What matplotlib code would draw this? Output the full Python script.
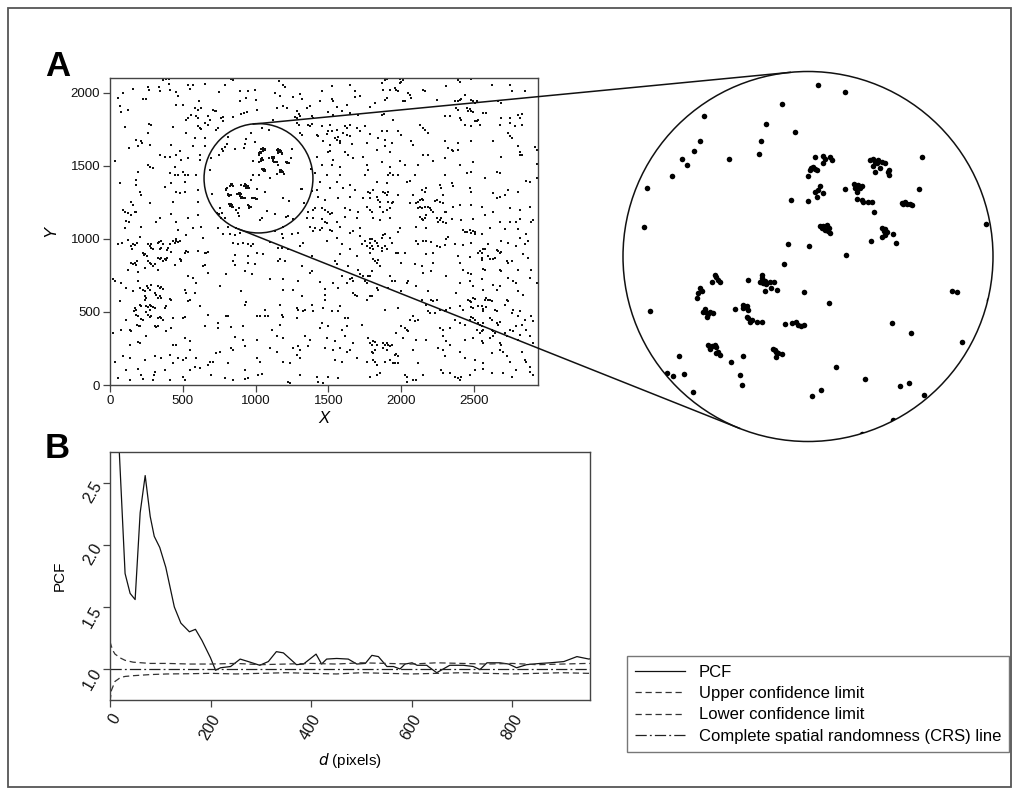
import numpy as np
import matplotlib
matplotlib.use('Agg')
import matplotlib.pyplot as plt
from matplotlib.patches import Circle, Rectangle
from matplotlib.lines import Line2D

plt.rcParams['font.family'] = ['Liberation Sans', 'DejaVu Sans']

# ---------------- Panel A data (X, Y) ----------------
pts_nw = [
(364,2085),(387,2090),(405,2090),(405,2060),(536,2055),(547,2025),(650,2062),(829,2090),(845,2083),(119,2106),
(89,1998),(158,2028),(261,2037),(265,2016),(334,2037),(341,2014),(410,2021),(455,2005),(467,1975),(570,2055),(746,2005),(792,2051),(891,2014),(936,1964),(948,2010),
(55,1964),(226,1957),(249,1957),(455,1918),(501,1918),(609,1945),(891,1945),(66,1906),(73,1865),(123,1884),
(586,1895),(604,1884),(627,1895),(593,1838),(604,1826),(559,1849),(536,1826),(673,1838),(684,1815),(707,1884),(719,1872),(730,1877),(776,1808),(765,1826),(845,1831),(776,1831),(902,1854),(920,1861),(943,1868),
(265,1785),(279,1780),(524,1815),(433,1762),(604,1769),(616,1758),(627,1753),(650,1792),(673,1780),(742,1758),(730,1746),
(101,1762),(261,1723),(524,1723),(650,1689),(586,1689),(181,1677),(215,1666),(220,1655),(272,1643),(421,1643),(478,1602),(570,1632),(650,1632),(128,1620),(192,1632),
(341,1574),(375,1563),(410,1563),(455,1574),(536,1552),(616,1574),(32,1529),(261,1506),(272,1494),(295,1483),(490,1540),(444,1494),(616,1540),
(192,1460),(410,1448),(444,1437),(467,1437),(501,1460),(513,1437),(536,1437),(593,1437),(66,1380),(181,1403),(181,1368),(375,1357),(421,1380),(513,1391),
(204,1323),(215,1300),(455,1323),(478,1311),(513,1323),(604,1334),(146,1254),(158,1231),(272,1242),(433,1254),(604,1254),
(89,1197),(101,1181),(123,1174),(169,1185),(181,1181),(146,1162),(341,1139),(421,1167),(536,1144),(604,1162),
(112,1121),(128,1116),(215,1082),(318,1116),(455,1116),(101,1071),(467,1059),(570,1071),(627,1082),(742,1071),(810,1082),(868,1071),(765,1139)]

pts_n = [
(1164,2078),(1191,2055),(1202,2037),(1454,2014),(1523,2044),(1649,2051),(1683,2010),(1867,2067),(1889,2083),(1901,2090),(1878,2021),(1924,2021),(1889,1952),(1901,1964),
(996,2021),(1003,1952),(1134,1998),(1168,1975),(1260,1968),(1306,1991),(1317,1959),(1443,1941),(1523,1959),(1535,1941),(1557,1900),(1626,1918),(1683,1968),(1718,1975),(1786,1900),(1821,1929),(1867,1849),(1883,1854),
(1008,1884),(1145,1895),(1191,1906),(1214,1895),(1283,1872),(1301,1854),(1351,1895),(1374,1906),(1500,1868),(1535,1849),(1592,1872),(1649,1861),(1706,1849),
(1271,1831),(1306,1838),(1283,1826),(1386,1838),(1397,1826),(1122,1815),(1283,1792),(1301,1776),(1363,1780),(1374,1769),(1386,1785),(1454,1769),(1512,1780),(1557,1746),(1615,1769),(1626,1758),(1649,1780),(1695,1758),(1752,1769),(1867,1735),
(1306,1723),(1317,1712),(1420,1712),(1431,1700),(1489,1716),(1500,1735),(1523,1739),(1546,1689),(1557,1677),(1569,1693),(1580,1666),(1603,1723),(1626,1712),(1649,1700),(1718,1735),(1786,1716),(1844,1689),(1901,1739),
(1466,1666),(1512,1643),(1580,1655),(1660,1650),(1764,1655),(1889,1677),(1935,1655),(1500,1597),(1512,1602),(1615,1597),(1638,1574),(1832,1609),(1889,1632),(1924,1593),
(1420,1563),(1535,1540),(1672,1552),(1741,1563),(1867,1524),(1454,1506),(1523,1506),(1580,1494),(1764,1506),(1775,1471),(1924,1494),
(1409,1448),(1489,1437),(1580,1437),(1752,1437),(1924,1448),(1947,1437),(1443,1391),(1557,1391),(1649,1368),(1832,1391),(1901,1380),(1912,1437),
(1420,1334),(1512,1345),(1603,1345),(1683,1334),(1775,1323),(1786,1311),(1809,1334),(1878,1323),(1889,1311),(1901,1300),(1912,1323),
(1363,1277),(1431,1288),(1477,1265),(1569,1277),(1649,1288),(1741,1277),(1786,1277),(1832,1288),(1844,1265),(1855,1254),(1912,1254),(1935,1242),
(1363,1185),(1397,1197),(1409,1208),(1454,1208),(1477,1197),(1500,1185),(1512,1167),(1523,1174),(1615,1208),(1649,1197),(1706,1185),(1764,1219),(1786,1197),(1798,1185),(1855,1219),(1878,1185),(1901,1197),(1924,1208),
(1351,1139),(1397,1139),(1454,1135),(1477,1116),(1489,1105),(1557,1116),(1615,1151),(1695,1139),(1809,1139),(1855,1128),(1924,1139),
(1374,1082),(1409,1071),(1443,1059),(1454,1071),(1512,1059),(1580,1082),(1718,1071)]

pts_ne = [
(1991,2090),(2002,2074),(2014,2083),(1995,2067),(1956,2032),(1968,2021),(1979,2010),(2048,1998),(2060,1987),(2014,1945),(2025,1941),(2071,1964),(2151,2021),(2163,2014),(2151,2101),(2380,2097),(2392,2083),(2403,2074),(2483,2090),(2529,2101),(2311,2044),(2437,1982),(2621,2055),(2747,2055),(2758,2010),(2850,2014),(2815,2106),
(2243,1952),(2369,1945),(2392,1941),(2403,1952),(2414,1959),(2483,1952),(2495,1941),(2506,1929),(2518,1945),(2666,1941),(2689,1929),
(2380,1895),(2392,1884),(2449,1895),(2460,1877),(2472,1890),(2483,1872),(2495,1868),(2563,1861),(2586,1861),(2300,1838),(2334,1838),(2403,1826),(2414,1815),(2506,1808),(2518,1803),(2529,1815),(2689,1826),(2747,1826),(2815,1826),(2804,1849),(2827,1854),
(1945,1815),(2128,1780),(2151,1758),(2437,1780),(2483,1769),(2540,1780),(2781,1769),(2678,1780),(2747,1792),(2827,1776),(1979,1735),(2002,1712),(2163,1746),(2185,1723),(2735,1723),(2747,1700),(2758,1689),
(2071,1666),(2082,1643),(2300,1666),(2323,1620),(2346,1609),(2357,1602),(2392,1655),(2392,1609),(2483,1666),(2632,1666),(2804,1632),(2815,1597),(2827,1574),(2918,1625),(2930,1609),
(1991,1529),(2151,1574),(2185,1574),(2220,1533),(2300,1552),(2689,1563),(2815,1574),(2025,1506),(2117,1506),(2403,1506),(2495,1524),(2930,1510),
(1979,1437),(2094,1437),(2300,1437),(2449,1448),(2483,1455),(2575,1414),(2655,1460),(2678,1448),(2861,1396),(2884,1391),(2930,1414),
(2037,1391),(2060,1396),(2266,1368),(2346,1380),(2357,1364),(2277,1345),(2472,1345),(1979,1300),(2082,1300),(2140,1334),(2163,1323),(2174,1345),(2289,1300),(2483,1323),(2632,1311),(2655,1277),(2678,1288),(2712,1300),(2735,1334),(2804,1323),
(1945,1254),(2060,1242),(2105,1242),(2117,1254),(2128,1265),(2140,1272),(2151,1265),(2128,1219),(2117,1208),(2140,1208),(2163,1219),(2185,1219),(2197,1208),(2208,1197),(2220,1185),(2231,1258),(2243,1265),(2266,1254),(2289,1242),(2300,1185),(2311,1181),(2357,1219),(2403,1231),(2483,1231),(2552,1219),(2632,1185),(2747,1208),(2815,1197),(2884,1219),
(2128,1151),(2140,1135),(2151,1128),(2163,1144),(2174,1162),(2243,1139),(2254,1116),(2266,1128),(2277,1144),(2289,1112),(2311,1105),(2346,1135),(2414,1128),(2495,1135),(2575,1162),(2678,1116),(2747,1116),(2792,1116),(2815,1135),(2895,1116),(2907,1128),
(1991,1071),(2105,1082),(2174,1071),(2426,1059),(2449,1048),(2472,1059),(2495,1052),(2506,1048),(2609,1071),(2712,1066),(2804,1066)]

pts_sw = [
(204,1015),(524,1024),(455,996),(467,978),(478,985),(639,1008),(776,1031),(822,1031),(856,1024),(891,1042),(845,973),(879,962),(913,973),(948,962),(971,950),
(55,962),(82,969),(123,992),(142,950),(151,932),(158,962),(174,955),(188,969),(226,905),(233,886),(242,893),(256,882),(261,962),(272,950),(279,939),(284,962),(295,928),(330,969),(334,978),(341,928),(352,939),(348,985),(364,962),(394,923),(398,939),(410,962),(417,909),(433,985),(444,973),(455,985),
(330,870),(341,859),(352,870),(364,847),(375,863),(387,854),(394,870),(284,825),(295,813),(307,825),(261,847),(272,836),(146,836),(158,825),(169,836),(181,818),(188,847),(524,916),(513,905),(536,909),(478,859),(485,847),(490,854),(604,916),(650,900),(662,905),(673,909),
(123,790),(192,772),(238,802),(330,790),(444,818),(536,744),(570,733),(593,699),(639,813),(650,818),(673,767),(753,676),(799,756),(856,886),(845,847),(856,818),(925,779),(948,882),(948,836),
(20,722),(32,710),(78,699),(112,664),(192,710),(158,641),(204,664),
(226,653),(238,641),(256,676),(261,664),(272,653),(279,687),(330,676),(341,664),(352,671),(364,657),(238,607),(249,596),(242,584),(307,630),(318,618),(330,596),(341,607),(352,596),(410,589),(421,584),(387,538),(375,527),
(169,527),(181,515),(165,504),(204,550),(215,538),(249,543),(261,534),(272,550),(284,538),(295,534),(307,527),(249,497),(261,481),(272,465),(284,474),(330,458),(341,465),(352,458),(181,481),(192,470),(188,412),(197,405),(204,401),(307,401),(318,396),(330,405),(215,451),(226,447),(364,442),
(66,573),(112,447),(135,378),(192,291),(272,515),(433,458),(501,458),(513,465),(536,573),(547,584),(513,653),(524,630),(581,630),(616,538),(673,481),(650,401),(742,424),(742,389),(799,474),(810,470),(833,396),(856,328),(902,641),(925,550),(936,566),(913,401),(925,264),
(20,355),(78,378),(146,367),(249,332),(387,367),(421,389),(513,321),(547,298),(433,275),(455,275),(547,241),(135,275),(204,286),
(410,206),(467,183),(501,172),(593,183),(673,138),(684,160),(707,160),(730,218),(753,229),(833,252),(845,241),(913,309),(810,149),
(32,160),(89,195),(135,183),(238,172),(307,195),(352,183),(433,149),(524,183),
(112,103),(192,108),(215,69),(307,92),(302,69),(375,103),(547,103),(581,122),(616,115),(696,69),(925,103),(948,46),
(55,46),(135,34),(226,39),(295,34),(410,34),(501,57),(513,34),(788,46),(845,34),(925,39)]

pts_s = [
(985,962),(1099,978),(1180,1031),(1191,1008),(1248,1031),(1294,1042),(1397,1054),(1523,1054),(1649,1042),(1672,1054),(1718,1019),(1752,985),(1786,1001),(1821,985),(1867,1008),(1873,1024),(1889,1031),(1924,1008),(1935,973),
(1889,950),(1901,928),(1867,939),(1844,950),(1832,973),(1798,950),(1786,939),(1809,928),(1786,905),(1867,916),(1786,973),(1798,996),(1809,863),(1821,847),(1832,836),(1844,854),(1855,813),(1924,744),(1798,779),
(1008,905),(1054,893),(1157,939),(1180,939),(1225,928),(1306,950),(1328,973),(1386,882),(1489,985),(1557,1008),(1580,893),(1592,962),(1649,928),(1695,882),(1729,962),(1764,950),
(996,825),(1157,847),(1168,859),(1202,847),(1317,813),(1374,767),(1386,779),(1546,847),(1557,825),(1638,813),(1706,790),
(973,756),(1099,726),(1191,722),(1294,710),(1443,703),(1535,699),(1592,744),(1626,699),(1649,722),(1660,733),(1672,710),(1718,756),(1741,744),(1752,710),(1764,699),(1775,744),(1786,749),(1832,664),(1844,653),(1912,664),(1935,710),
(1191,653),(1260,653),(1477,657),(1569,664),(1672,630),(1683,618),(1695,612),(1764,584),(1786,607),(1798,612),(1889,515),
(1168,550),(1317,607),(1386,550),(1466,527),(1477,584),(1580,538),(1477,618),
(1008,474),(1065,515),(1031,470),(1065,474),(1088,474),(1180,481),(1191,465),(1283,527),(1294,515),(1328,509),(1340,515),(1397,504),(1523,504),(1569,504),(1615,458),(1638,458),(1729,412),
(1111,378),(1168,412),(1283,458),(1454,424),(1443,389),(1500,401),(1592,378),(1626,401),
(1008,309),(1145,332),(1191,321),(1340,332),(1374,309),(1489,321),(1546,298),(1615,332),
(1775,321),(1786,286),(1798,275),(1809,298),(1821,291),(1832,275),(1878,286),(1889,275),(1901,286),(1912,275),(1924,268),(1935,275),(1878,252),(1901,241),(1798,229),(1809,218),(1821,241),
(1099,252),(1145,229),(1260,252),(1294,264),(1306,241),(1283,206),(1306,183),(1363,264),(1477,252),(1535,241),(1580,252),(1626,229),(1649,241),(1672,286),
(1008,183),(1031,160),(1191,160),(1237,149),(1546,172),(1592,160),(1695,183),(1764,160),(1809,172),(1821,154),(1832,138),(1889,160),(1924,172),(1947,149),
(1019,69),(1042,76),(1306,69),(1420,57),(1500,57),(1569,46),(1786,57),(1832,69),(1855,80),(1225,23),(1237,11),(1432,23),(1466,11)]

pts_se = [
(2437,1047),(2483,1042),(2506,1031),(2552,1031),(2323,1015),(2311,996),(2861,1031),(2815,1008),(1979,1047),
(2105,985),(2117,962),(2151,985),(2174,985),(2208,978),(2243,950),(2266,946),(2300,955),(2369,962),(2426,955),(2483,973),(2598,962),(2689,985),(2735,973),(2792,950),(2850,962),(2872,985),
(2529,905),(2540,916),(2552,900),(2563,928),(2575,932),(2598,882),(2609,859),(2632,859),(2643,870),(2655,923),(2666,916),(2678,905),(2689,909),(2724,847),(2735,836),(2552,854),(2563,795),(2575,790),(2678,790),(2689,779),(2552,870),
(1968,905),(1979,900),(2025,900),(2174,893),(2220,905),(2392,882),(2472,877),(2838,893),(2872,870),(2895,790),(2758,847),
(2002,836),(2094,825),(2140,813),(2220,836),(2403,836),(2426,790),(2460,767),(2483,756),(2208,779),(2151,767),(2804,790),
(1956,710),(2037,699),(2048,710),(2311,744),(2403,699),(2472,710),(2552,722),(2632,687),(2678,676),(2735,733),(2769,710),(2792,699),(2884,733),
(2804,641),(2838,618),(2930,699),(2002,641),(2105,676),(2185,641),(2380,630),(2495,676),(2563,653),(2655,653),
(2460,584),(2472,573),(2495,596),(2483,566),(2506,589),(2483,534),(2495,527),(2529,538),(2552,543),(2563,520),(2563,504),(2575,584),(2586,596),(2598,580),(2609,584),(2621,573),(2586,534),(2643,515),(2655,504),(2724,580),(2735,573),(2712,550),
(2483,465),(2495,458),(2506,447),(2472,447),(2529,424),(2540,412),(2552,401),(2563,424),(2609,458),(2621,447),(2655,424),(2666,412),(2678,428),(2621,378),(2632,367),(2643,355),(2540,355),(2552,367),(2563,378),(2552,298),(2563,286),(2678,286),(2689,275),(2632,332),(2518,378),
(2140,584),(2208,584),(2220,573),(2243,584),(2174,550),(2266,515),(2300,504),(2311,515),(2334,527),(2403,538),(2426,515),(2185,504),(2197,493),(2231,493),
(1979,527),(2060,447),(2082,470),(2094,435),(2117,447),(2002,401),(2025,389),(2037,378),(2048,367),(2266,389),(2289,378),(2334,389),(2369,447),(2403,424),(2437,412),
(2758,493),(2769,515),(2815,504),(2804,470),(2792,401),(2827,412),(2850,447),(2895,470),(2907,435),(2861,378),(2769,367),(2747,378),(2815,344),
(1968,355),(2014,321),(2105,309),(2174,309),(2289,332),(2311,298),(2334,275),(2437,309),(2495,321),(2609,321),(2712,355),(2724,332),(2804,309),(2884,332),(2907,286),
(1956,206),(1968,213),(1979,195),(1956,149),(1979,149),(2082,241),(2117,149),(2254,252),(2289,241),(2300,195),(2403,229),(2437,183),(2506,172),(2563,149),(2621,218),(2678,241),(2701,229),(2724,195),(2747,160),(2827,229),(2850,172),(2861,160),(2884,126),
(2025,69),(2037,57),(2082,34),(2105,34),(2151,69),(2277,103),(2289,80),(2334,80),(2369,57),(2392,46),(2403,34),(2414,57),(2472,69),(2506,103),(2563,108),(2621,80),(2701,80),(2758,57),(2792,103),(2884,92),(2907,69),(2037,23)]

# points inside the magnified circle (X, Y)
zoom_pts = [
(1041,1761),(1094,1746),(967,1723),(809,1699),(936,1682),(994,1665),(801,1647),(925,1647),(790,1628),(766,1612),(776,1599),(861,1612),(921,1621),(746,1576),(695,1553),(689,1473),
(1034,1616),(1051,1618),(1054,1611),(1065,1615),(1068,1610),(1050,1603),(1024,1589),(1027,1593),(1031,1595),(1034,1591),(1038,1589),(1021,1576),
(1146,1610),(1152,1611),(1156,1606),(1159,1603),(1162,1610),(1169,1606),(1176,1604),(1152,1597),(1166,1593),(1156,1585),(1183,1589),(1183,1579),(1181,1584),(1250,1616),
(1044,1556),(1041,1549),(1034,1545),(1038,1535),(1051,1542),(1021,1527),(1094,1550),
(1112,1561),(1119,1557),(1115,1552),(1122,1559),(1125,1552),(1129,1557),(1119,1545),(1119,1530),(1129,1528),(1132,1525),(1142,1525),(1149,1524),(1154,1503),
(1245,1550),(1210,1523),(1213,1520),(1216,1525),(1220,1520),(1227,1520),(1230,1518),(985,1529),(1380,1480),
(1044,1475),(1048,1471),(1051,1476),(1054,1468),(1058,1478),(1061,1466),(1065,1461),(1063,1471),
(1169,1471),(1173,1466),(1176,1469),(1179,1464),(1176,1458),(1169,1454),(1191,1459),(1198,1442),(1148,1446),
(979,1439),(1022,1436),(1096,1418),(971,1399),
(926,1377),(928,1370),(923,1363),(930,1360),(933,1365),(936,1358),(943,1363),(951,1363),(946,1350),(958,1346),(934,1345),(898,1367),(1011,1342),(1063,1321),
(832,1377),(835,1373),(838,1367),(842,1363),(825,1363),(801,1350),(805,1345),(798,1340),(795,1331),
(811,1307),(808,1302),(815,1300),(818,1298),(822,1302),(828,1299),(816,1292),(700,1304),(872,1308),
(889,1316),(892,1311),(896,1314),(889,1309),(899,1306),(896,1292),(899,1289),(903,1282),(916,1282),(926,1282),(906,1286),
(973,1277),(987,1279),(996,1282),(1000,1275),(1005,1273),(1011,1275),
(1311,1344),(1321,1342),(1385,1327),(1189,1279),(1228,1259),(1332,1242),
(818,1235),(822,1230),(825,1233),(832,1235),(835,1232),(838,1221),(842,1215),(835,1218),(822,1226),
(950,1228),(953,1225),(956,1221),(960,1218),(967,1217),(955,1210),
(759,1213),(888,1213),(864,1200),(735,1178),(747,1172),(770,1176),(788,1140),(882,1175),(887,1154),
(1077,1190),(1135,1167),(1206,1152),(1224,1159),(1254,1134),(1046,1145),(1029,1131),(1191,1083),(1130,1056)]

zoom_center = (1020, 1414)
zoom_radius = 374

a_xticks = [0, 500, 1000, 1500, 2000, 2500]
a_yticks = [0, 500, 1000, 1500, 2000]

# ---------------- Panel B data ----------------
pcf_d = [5, 15, 30, 40, 50, 60, 70, 80, 88, 99, 111, 128, 141, 158, 170, 183, 200, 210, 220, 240,
         259, 275, 298, 315, 331, 345, 371, 385, 410, 421, 431, 451, 474, 491, 508, 521, 534, 551,
         564, 577, 587, 601, 611, 630, 650, 663, 676, 703, 723, 736, 750, 776, 793, 809, 829, 856,
         876, 903, 929, 953, 972, 990]
pcf_g = [5.0, 3.05, 1.77, 1.61, 1.56, 2.26, 2.56, 2.23, 2.07, 1.98, 1.82, 1.50, 1.37, 1.30, 1.32,
         1.23, 1.09, 0.99, 1.01, 1.02, 1.08, 1.06, 1.03, 1.06, 1.14, 1.13, 1.035, 1.04, 1.12, 1.04,
         1.08, 1.085, 1.08, 1.04, 1.045, 1.11, 1.10, 1.02, 1.02, 1.00, 1.04, 1.05, 1.03, 1.03, 0.97,
         1.00, 1.03, 1.03, 1.02, 0.995, 1.05, 1.05, 1.04, 1.01, 1.035, 1.045, 1.05, 1.06, 1.10, 1.08,
         1.105, 1.09]
env_d = [0, 3, 7, 10, 17, 20, 30, 46, 80, 113, 160, 200, 250, 300, 350, 400, 450, 500, 550, 600,
         650, 700, 750, 800, 850, 900, 950, 990]
env_hi = [1.22, 1.18, 1.14, 1.12, 1.10, 1.09, 1.07, 1.055, 1.045, 1.045, 1.04, 1.04, 1.045, 1.035,
          1.04, 1.045, 1.04, 1.05, 1.045, 1.04, 1.05, 1.045, 1.04, 1.045, 1.035, 1.04, 1.045, 1.04]
env_lo = [0.74, 0.83, 0.87, 0.90, 0.92, 0.93, 0.94, 0.946, 0.955, 0.96, 0.962, 0.965, 0.96, 0.965,
          0.97, 0.965, 0.96, 0.97, 0.965, 0.96, 0.965, 0.97, 0.965, 0.96, 0.965, 0.97, 0.965, 0.965]
crs_value = 1.0
b_xticks = [0, 200, 400, 600, 800]
b_yticks = [1.0, 1.5, 2.0, 2.5]
legend_labels = ['PCF', 'Upper confidence limit', 'Lower confidence limit',
                 'Complete spatial randomness (CRS) line']

# ---------------- Figure ----------------
W, H = 1019, 795
fig = plt.figure(figsize=(W / 100, H / 100), dpi=100)
fig.patch.set_facecolor('white')

def rect(l, t, r, b):
    return [l / W, 1 - b / H, (r - l) / W, (b - t) / H]

frame_col = '#444444'

# outer frame
fig.add_artist(Rectangle((8 / W, 1 - 787 / H), 1003 / W, 779 / H, fill=False,
                         edgecolor='#555555', lw=1.3, transform=fig.transFigure))

# ---- Panel A ----
axA = fig.add_axes(rect(110, 78, 538, 385))
main = np.array(pts_nw + pts_n + pts_ne + pts_sw + pts_s + pts_se, dtype=float)
zp = np.array(zoom_pts, dtype=float)
dist = np.hypot(main[:, 0] - zoom_center[0], main[:, 1] - zoom_center[1])
outside = main[dist > zoom_radius]
allpts = np.vstack([outside, zp])
axA.scatter(allpts[:, 0], allpts[:, 1], s=1.6, c='#111111', marker='s', linewidths=0)
axA.set_xlim(0, 2940)
axA.set_ylim(0, 2100)
axA.set_xticks(a_xticks)
axA.set_yticks(a_yticks)
axA.tick_params(direction='out', length=5, width=0.9, labelsize=9.5, color=frame_col,
                labelcolor='#111111', pad=2)
for sp in axA.spines.values():
    sp.set_color(frame_col)
    sp.set_linewidth(1.0)
axA.set_xlabel('X', fontsize=12, style='italic', labelpad=3)
axA.set_ylabel('Y', fontsize=12, style='italic', labelpad=9)
small_c = Circle(zoom_center, zoom_radius, fill=False, edgecolor='#111111', lw=1.1,
                 clip_on=False)
axA.add_patch(small_c)

# ---- Magnified inset ----
axZ = fig.add_axes(rect(623, 71.5, 993, 441.5))
axZ.set_xlim(zoom_center[0] - zoom_radius, zoom_center[0] + zoom_radius)
axZ.set_ylim(zoom_center[1] - zoom_radius, zoom_center[1] + zoom_radius)
axZ.axis('off')
big_c = Circle(zoom_center, zoom_radius, fill=False, edgecolor='#111111', lw=1.1,
               clip_on=False)
axZ.add_patch(big_c)
sc = axZ.scatter(zp[:, 0], zp[:, 1], s=16, c='#000000', linewidths=0)
clip_c = Circle(zoom_center, zoom_radius, transform=axZ.transData)
sc.set_clip_path(clip_c)

# tangent connector lines (computed in display space)
c1 = axA.transData.transform(zoom_center)
r1 = axA.transData.transform((zoom_center[0] + zoom_radius, zoom_center[1]))[0] - c1[0]
c2 = axZ.transData.transform(zoom_center)
r2 = axZ.transData.transform((zoom_center[0] + zoom_radius, zoom_center[1]))[0] - c2[0]
dvec = c2 - c1
D = np.hypot(*dvec)
base = np.arctan2(dvec[1], dvec[0])
alpha = np.arccos((r1 - r2) / D)
inv = fig.transFigure.inverted()
for sgn in (1, -1):
    ang = base + sgn * alpha
    n = np.array([np.cos(ang), np.sin(ang)])
    p1 = inv.transform(c1 + r1 * n)
    p2 = inv.transform(c2 + r2 * n)
    fig.add_artist(Line2D([p1[0], p2[0]], [p1[1], p2[1]], color='#111111', lw=1.1,
                          transform=fig.transFigure))

# ---- Panel B ----
axB = fig.add_axes(rect(110, 452, 590, 700))
axB.plot(pcf_d, pcf_g, color='#111111', lw=0.9, label=legend_labels[0])
axB.plot(env_d, env_hi, color='#333333', lw=0.9, ls=(0, (5, 3)), label=legend_labels[1])
axB.plot(env_d, env_lo, color='#333333', lw=0.9, ls=(0, (5, 3)), label=legend_labels[2])
axB.axhline(crs_value, color='#222222', lw=0.9, ls=(0, (9, 2.5, 1.5, 2.5)),
            label=legend_labels[3])
axB.set_xlim(0, 955)
axB.set_ylim(0.75, 2.75)
axB.set_xticks(b_xticks)
axB.set_yticks(b_yticks)
axB.set_yticklabels([f'{v:.1f}' for v in b_yticks])
axB.tick_params(direction='out', length=5, width=0.9, labelsize=11.5, color=frame_col,
                labelcolor='#111111')
for lab in axB.get_xticklabels():
    lab.set_rotation(60)
    lab.set_ha('right')
    lab.set_va('top')
    lab.set_rotation_mode('anchor')
for lab in axB.get_yticklabels():
    lab.set_rotation(60)
    lab.set_ha('right')
    lab.set_va('center')
    lab.set_rotation_mode('anchor')
for sp in axB.spines.values():
    sp.set_color(frame_col)
    sp.set_linewidth(1.0)
axB.set_ylabel('PCF', fontsize=11, labelpad=10)
axB.set_xlabel('$d$ (pixels)', fontsize=11, labelpad=6)

leg = fig.legend(handles=axB.get_lines(), labels=legend_labels, loc='lower left',
                 bbox_to_anchor=(627 / W, 1 - 752 / H), fontsize=12, frameon=True,
                 fancybox=False, edgecolor='#555555', handlelength=3.0,
                 labelspacing=0.38, borderpad=0.5, handletextpad=0.8, borderaxespad=0)
leg.get_frame().set_linewidth(1.0)

# panel letters
fig.text(45 / W, 1 - 76 / H, 'A', fontsize=25, fontweight='bold', ha='left', va='baseline')
fig.text(45 / W, 1 - 458 / H, 'B', fontsize=25, fontweight='bold', ha='left', va='baseline')

fig.savefig('out.png', dpi=100, facecolor='white')
